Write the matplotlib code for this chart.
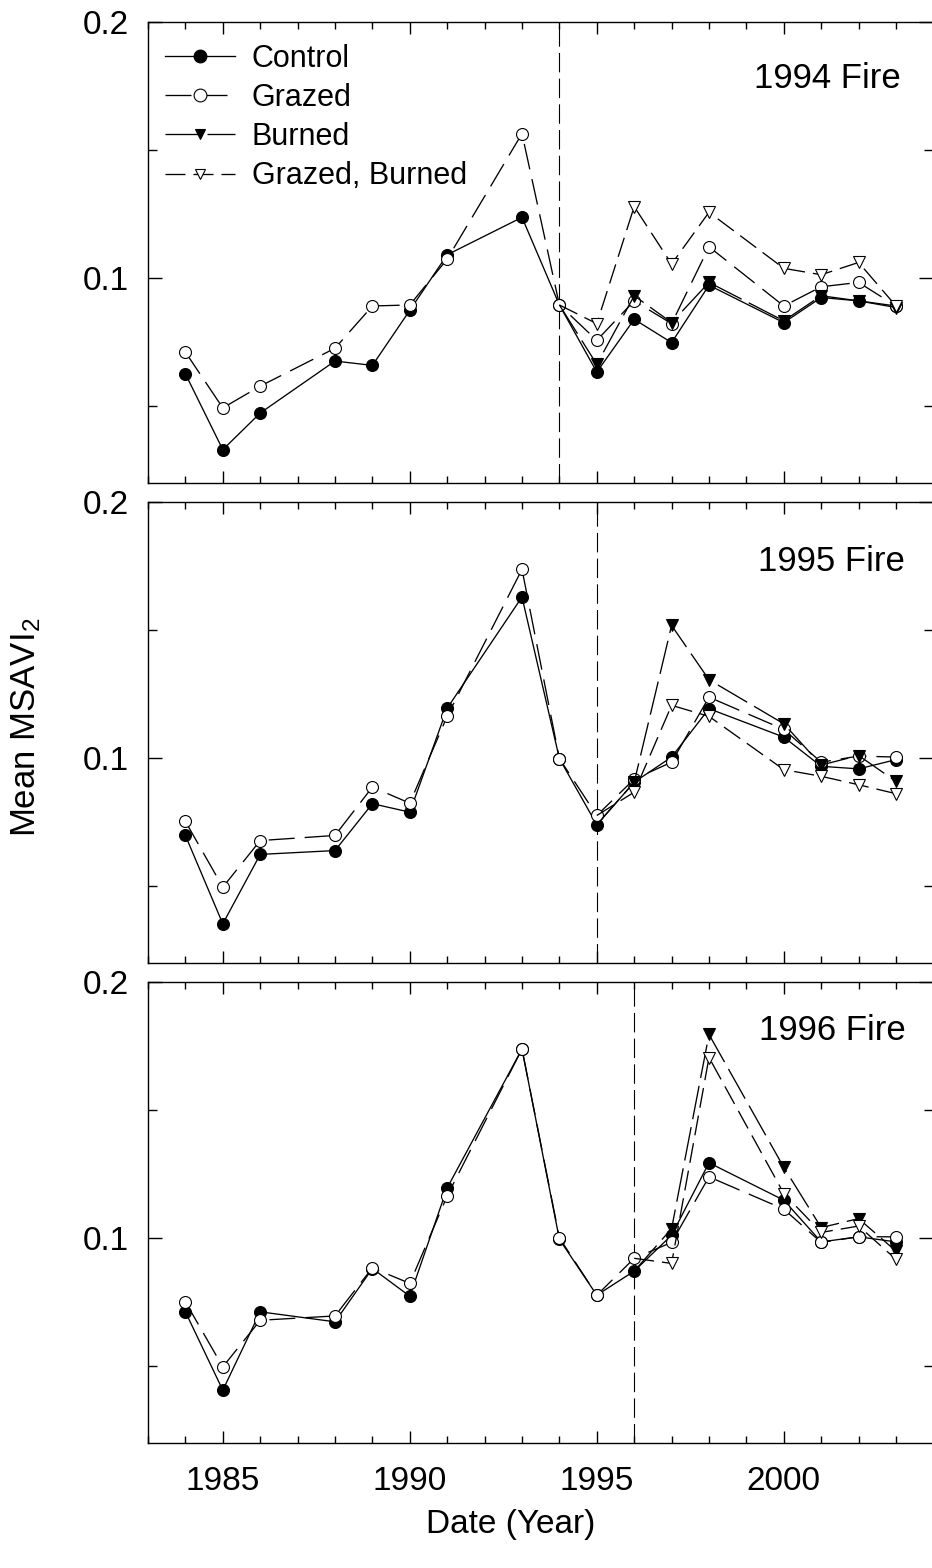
import matplotlib
matplotlib.use("Agg")
import matplotlib.pyplot as plt
from matplotlib.lines import Line2D
from matplotlib.ticker import MultipleLocator, FormatStrFormatter

plt.rcParams["font.family"] = ["Liberation Sans", "DejaVu Sans"]
plt.rcParams["mathtext.fontset"] = "custom"
plt.rcParams["mathtext.rm"] = "Liberation Sans"
plt.rcParams["mathtext.it"] = "Liberation Sans:italic"
plt.rcParams["mathtext.bf"] = "Liberation Sans:bold"
plt.rcParams["lines.scale_dashes"] = False

# ---------------------------------------------------------------- data
years = [1984, 1985, 1986, 1988, 1989, 1990, 1991, 1993, 1994,
         1995, 1996, 1997, 1998, 2000, 2001, 2002, 2003]

fire_years = [1994, 1995, 1996]
fire_labels = ["1994 Fire", "1995 Fire", "1996 Fire"]

# 1994 fire
control_1994 = [0.0625, 0.0329, 0.0472, 0.0675, 0.0658, 0.0873, 0.1090, 0.1236, 0.0894,
                0.0632, 0.0838, 0.0747, 0.0971, 0.0825, 0.0923, 0.0910, 0.0890]
grazed_1994 = [0.0710, 0.0492, 0.0577, 0.0725, 0.0890, 0.0894, 0.1073, 0.1563, 0.0894,
               0.0756, 0.0910, 0.0821, 0.1121, 0.0890, 0.0965, 0.0982, 0.0890]
# burned plots, from the fire year onwards
burned_1994 = [0.0894, 0.0662, 0.0930, 0.0825, 0.0982, 0.0832, 0.0930, 0.0910, 0.0884]
grazed_burned_1994 = [0.0894, 0.0821, 0.1278, 0.1054, 0.1256, 0.1037, 0.1012, 0.1060, 0.0890]

# 1995 fire
control_1995 = [0.0698, 0.0353, 0.0624, 0.0639, 0.0822, 0.0789, 0.1195, 0.1629, 0.0998,
                0.0740, 0.0906, 0.1004, 0.1193, 0.1082, 0.0968, 0.0958, 0.0994]
grazed_1995 = [0.0753, 0.0496, 0.0678, 0.0698, 0.0887, 0.0824, 0.1164, 0.1737, 0.0998,
               0.0776, 0.0918, 0.0984, 0.1238, 0.1112, 0.0984, 0.1008, 0.1004]
burned_1995 = [0.0740, 0.0906, 0.1518, 0.1306, 0.1134, 0.0973, 0.1010, 0.0909]
grazed_burned_1995 = [0.0776, 0.0867, 0.1206, 0.1163, 0.0955, 0.0929, 0.0896, 0.0861]

# 1996 fire
control_1996 = [0.0711, 0.0405, 0.0711, 0.0672, 0.0880, 0.0772, 0.1195, 0.1737, 0.0994,
                0.0776, 0.0870, 0.1010, 0.1293, 0.1147, 0.0984, 0.1004, 0.0984]
grazed_1996 = [0.0750, 0.0496, 0.0678, 0.0695, 0.0883, 0.0822, 0.1164, 0.1737, 0.1000,
               0.0776, 0.0920, 0.0982, 0.1238, 0.1112, 0.0982, 0.1004, 0.1004]
burned_1996 = [0.0870, 0.1036, 0.1794, 0.1275, 0.1040, 0.1075, 0.0948]
grazed_burned_1996 = [0.0920, 0.0900, 0.1704, 0.1173, 0.1021, 0.1046, 0.0916]

panels = [
    (control_1994, grazed_1994, burned_1994, grazed_burned_1994),
    (control_1995, grazed_1995, burned_1995, grazed_burned_1995),
    (control_1996, grazed_1996, burned_1996, grazed_burned_1996),
]

series_names = ["Control", "Grazed", "Burned", "Grazed, Burned"]

# ---------------------------------------------------------------- styles
PT = 72.0 / 100.0          # pixels -> points at 100 dpi
LW = 0.95
MEW = 0.8
MS = 8.6

styles = [
    dict(color="k", lw=LW, ls="-", marker="o", mfc="k", mec="k"),
    dict(color="k", lw=LW, dashes=[26 * PT, 10 * PT], marker="o", mfc="w", mec="k"),
    dict(color="k", lw=LW, dashes=[34 * PT, 8 * PT], marker="v", mfc="k", mec="k"),
    dict(color="k", lw=LW, dashes=[20 * PT, 8 * PT], marker="v", mfc="w", mec="k"),
]

# ---------------------------------------------------------------- layout
W, H = 932, 1568
fig = plt.figure(figsize=(W / 100, H / 100), dpi=100)

ax_left = 148 / W
ax_width = 785.4 / W
ax_height = 461 / H
ax_bottoms = [1 - 482.7 / H, 1 - 963.0 / H, 1 - 1442.7 / H]
fire_text_pos = [(0.958, 0.876), (0.964, 0.872), (0.965, 0.894)]

axes = []
for i, (series, fire, flabel) in enumerate(zip(panels, fire_years, fire_labels)):
    ax = fig.add_axes([ax_left, ax_bottoms[i], ax_width, ax_height])
    axes.append(ax)
    control, grazed, burned, grazed_burned = series
    post = [y for y in years if y >= fire]

    ax.axvline(fire, color="k", lw=0.8, dashes=[14, 4.5], zorder=1)

    z = 2
    for vals, st, xs in [(control, styles[0], years),
                         (grazed, styles[1], years),
                         (burned, styles[2], post),
                         (grazed_burned, styles[3], post)]:
        kw = dict(st)
        if xs is post:
            kw["markevery"] = slice(1, None)
        ax.plot(xs, vals, ms=MS, mew=MEW, zorder=z, **kw)
        z += 1

    ax.set_xlim(1983, 2004)
    ax.set_ylim(0.02, 0.2)
    ax.xaxis.set_major_locator(MultipleLocator(5))
    ax.xaxis.set_minor_locator(MultipleLocator(1))
    ax.yaxis.set_major_locator(MultipleLocator(0.1))
    ax.yaxis.set_minor_locator(MultipleLocator(0.05))
    ax.yaxis.set_major_formatter(FormatStrFormatter("%.1f"))

    ax.tick_params(axis="both", which="both", direction="in",
                   top=True, right=True, width=1.0, colors="k")
    ax.tick_params(axis="x", which="major", length=8.6, labelsize=24, pad=17)
    ax.tick_params(axis="x", which="minor", length=5.0)
    ax.tick_params(axis="y", which="major", length=10, labelsize=24, pad=14)
    ax.tick_params(axis="y", which="minor", length=6.5)
    for sp in ax.spines.values():
        sp.set_linewidth(1.0)
    if i < 2:
        ax.tick_params(axis="x", labelbottom=False)

    ax.text(fire_text_pos[i][0], fire_text_pos[i][1], flabel, transform=ax.transAxes,
            ha="right", va="center", fontsize=25)

# legend on the top panel
handles = [
    Line2D([], [], ms=9.2, mew=MEW, **styles[0]),
    Line2D([], [], ms=9.2, mew=MEW, **styles[1]),
    Line2D([], [], ms=7.4, mew=MEW, **styles[2]),
    Line2D([], [], ms=7.4, mew=MEW, **styles[3]),
]
axes[0].legend(handles, series_names, loc="upper left", bbox_to_anchor=(0.0216, 0.952),
               frameon=False, fontsize=22, handlelength=2.29, handletextpad=0.55,
               labelspacing=0.3, borderpad=0, borderaxespad=0)

fig.text(511 / W, 1 - 1525 / H, "Date (Year)", ha="center", va="center", fontsize=24)
fig.text(26 / W, 1 - 727 / H, r"Mean MSAVI$_\mathrm{2}$", ha="center", va="center",
         rotation=90, fontsize=25)

fig.savefig("out.png", dpi=100)
